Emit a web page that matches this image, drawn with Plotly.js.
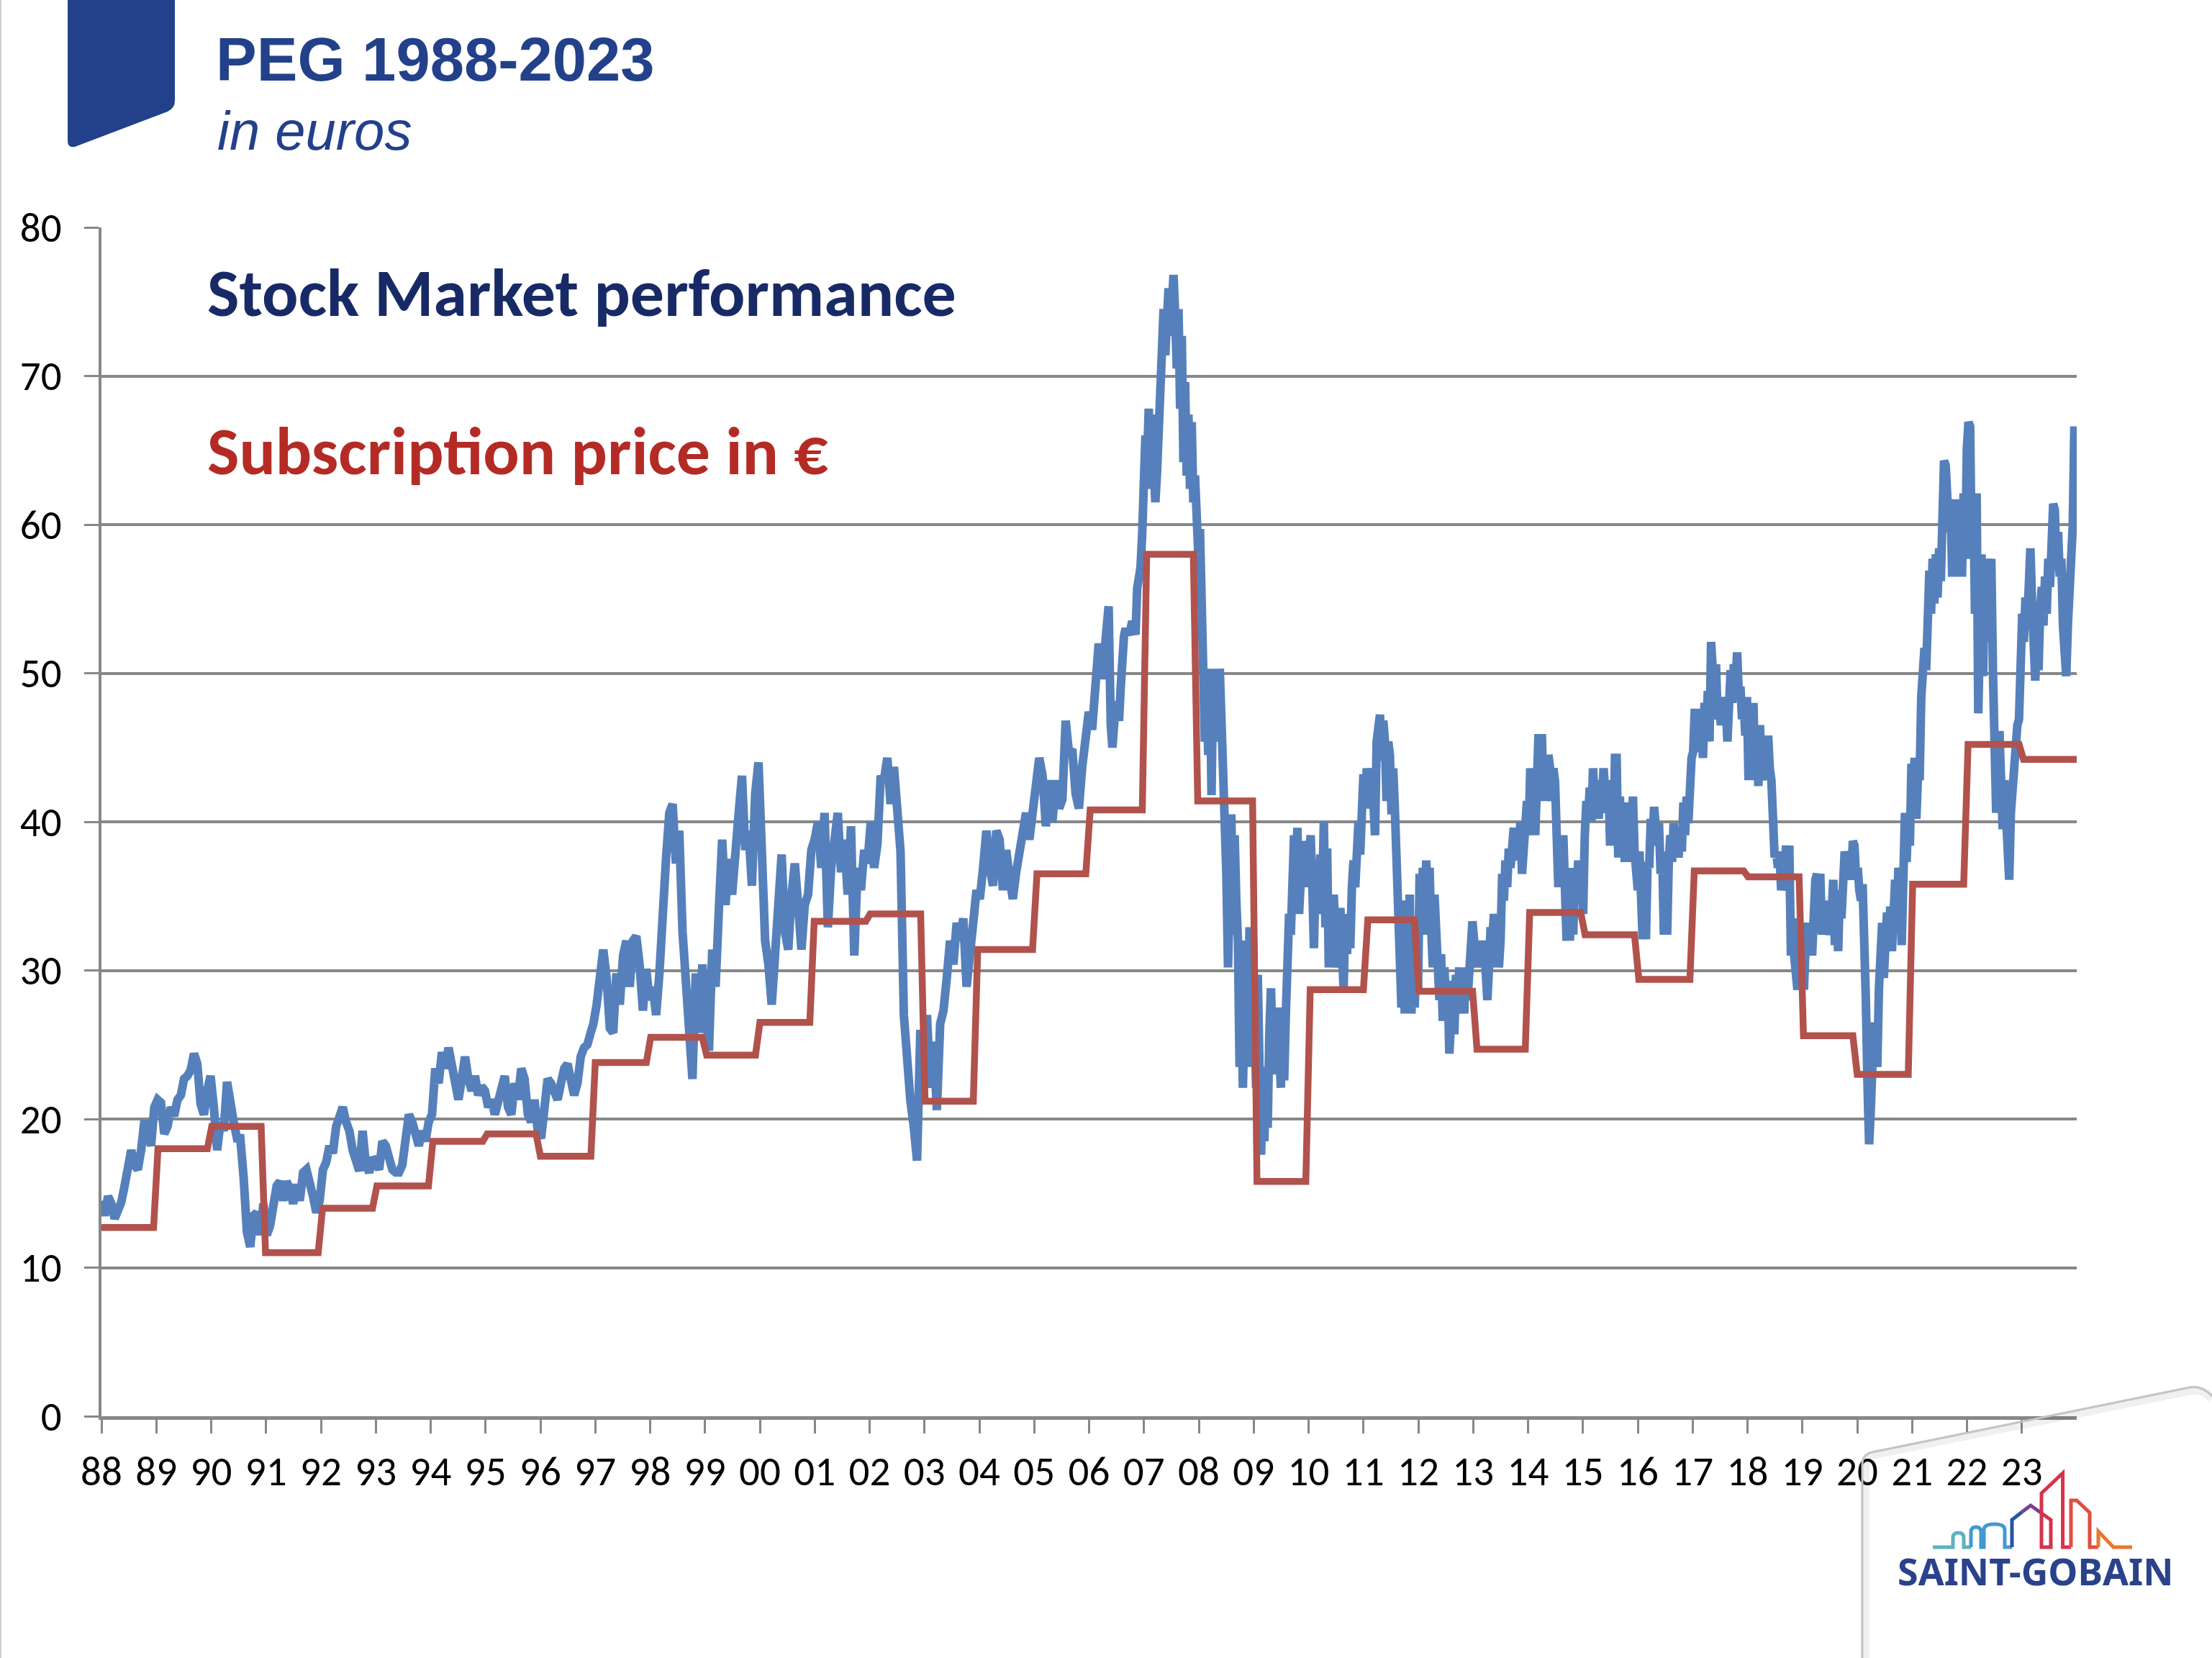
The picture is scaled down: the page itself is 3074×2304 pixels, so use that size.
<!DOCTYPE html>
<html>
<head>
<meta charset="utf-8">
<script src="https://cdn.plot.ly/plotly-3.0.1.min.js"></script>
<style>
  html, body { margin: 0; padding: 0; background: #ffffff; }
  #chart { width: 3074px; height: 2304px; }
</style>
</head>
<body>
<div id="chart"></div>
<script>
// ---------------- DATA ----------------
// Year tick positions and labels
const yearTicks = [1988,1989,1990,1991,1992,1993,1994,1995,1996,1997,1998,1999,2000,2001,2002,2003,2004,2005,2006,2007,2008,2009,2010,2011,2012,2013,2014,2015,2016,2017,2018,2019,2020,2021,2022,2023];
const yearLabels = ['88','89','90','91','92','93','94','95','96','97','98','99','00','01','02','03','04','05','06','07','08','09','10','11','12','13','14','15','16','17','18','19','20','21','22','23'];
const priceTicks = [0,10,20,30,40,50,60,70,80];

// Stock price (euros), regularly sampled readings, in four stretches
const stockAStart = 1988.0, stockAEnd = 1996.916;
const stockA = [14.5,13.5,14.8,14.3,13.3,13.9,14.4,15.5,17.0,17.9,16.9,16.6,17.9,19.9,19.0,18.2,20.8,21.3,21.1,19.0,
  19.5,20.8,20.2,21.3,21.6,22.7,22.9,23.3,24.4,23.7,21.0,20.3,21.9,22.9,20.8,17.9,19.8,19.2,22.5,20.8,
  19.8,18.7,18.7,16.1,12.4,11.4,13.5,13.7,12.2,14.3,12.2,12.8,14.5,15.5,15.8,14.5,15.8,15.3,14.3,15.6,
  14.5,16.4,16.6,15.3,14.8,13.7,14.5,16.6,17.1,18.2,17.7,19.5,20.3,20.8,19.8,19.2,17.9,17.1,16.5,19.2,
  16.9,16.4,17.4,17.1,16.6,18.5,18.2,17.4,16.6,16.4,16.4,16.9,18.2,20.3,19.8,18.7,18.2,19.2,18.5,19.8,
  20.3,23.4,22.4,24.5,23.4,24.8,23.4,22.4,21.3,22.7,24.2,22.7,21.9,22.9,21.6,22.2,21.9,20.8,21.3,20.3,
  21.1,22.4,22.9,20.8,20.3,22.4,21.3,23.4,22.7,20.3,19.8,21.3,19.2,18.7,20.5,22.7,22.4,21.6,21.3,22.4,
  23.4,23.7,22.4,21.6,22.4,24.2,24.8,25.0,25.8];

const stockBStart = 1996.965, stockBEnd = 2006.356;
const stockB = [26.4,27.7,29.5,31.4,29.5,26.1,25.8,29.8,27.7,31.0,
  32.0,28.9,32.0,32.3,30.4,27.3,30.1,28.0,28.9,27.0,
  29.8,35.4,37.5,40.6,41.2,37.2,39.4,32.6,28.9,25.8,
  22.7,29.8,25.8,30.4,27.3,24.6,31.4,28.9,34.1,38.8,
  34.4,37.5,35.1,38.8,40.6,43.1,38.1,39.4,35.7,41.9,
  44.0,38.1,32.0,30.4,27.7,31.0,35.1,37.8,32.6,31.4,
  35.1,37.2,34.4,31.4,34.4,35.1,38.1,38.8,40.0,36.9,
  40.6,32.9,36.9,39.4,40.6,36.6,38.8,35.1,39.7,31.0,
  36.9,35.4,38.1,37.2,40.0,36.9,38.5,43.1,42.8,44.3,
  41.2,43.7,40.9,38.0,27.0,22.7,21.2,19.5,17.2,26.0,
  22.5,27.0,22.1,25.2,20.6,26.4,27.3,29.5,32.0,30.4,
  33.2,32.0,33.5,28.9,32.0,33.2,35.4,34.8,36.9,39.4,
  36.9,35.7,39.4,38.8,35.4,38.1,36.3,34.8,36.6,38.1,
  39.4,40.6,38.8,40.9,41.9,44.3,43.1,39.7,42.8,40.0,
  42.8,40.9,41.5,46.8,44.6,44.9,41.9,40.9,43.7,45.2,
  47.4,46.2,50.5,52.0,49.6,53.0,54.5];

const stockCStart = 2006.395, stockCEnd = 2015.245;
const stockC = [46.5,45.0,46.5,48.1,47.5,46.8,49.0,51.7,52.5,53.0,
  52.8,52.6,53.0,53.5,53.0,52.6,55.7,56.5,57.1,59.3,
  62.9,66.0,64.2,67.8,62.4,67.4,64.0,61.5,63.5,66.0,
  70.5,73.2,74.5,71.4,75.0,75.9,72.7,75.4,76.8,74.1,
  70.5,74.5,67.8,72.7,64.2,69.6,63.3,67.4,62.4,66.9,
  61.5,63.3,60.2,58.0,59.7,54.8,51.7,45.4,49.9,44.5,
  50.3,41.8,49.9,45.4,50.3,45.4,50.3,47.2,41.4,39.1,
  36.5,30.2,36.5,40.5,32.4,39.1,34.7,32.0,23.5,28.4,
  22.1,25.7,32.0,23.5,32.9,30.2,32.4,25.7,22.1,29.7,
  21.2,17.6,22.1,18.5,23.5,19.4,25.7,28.8,24.4,27.5,
  23.0,26.6,24.8,22.1,27.5,22.6,27.1,30.2,33.8,32.4,
  34.7,39.1,35.1,39.6,33.8,37.4,38.2,35.6,38.7,38.2,
  36.5,39.1,36.0,31.5,36.5,33.8,35.6,37.8,34.7,40.0,
  32.9,38.2,30.2,34.7,32.0,35.1,32.4,30.2,32.4,34.2,
  31.1,28.8,33.8,31.1,33.3,31.5,35.6,37.4,35.6,39.1,
  40.0,37.8,40.5,43.2,40.9,43.6,42.7,40.9,43.6,40.0,
  39.1,45.4,46.3,47.2,44.1,46.8,45.4,41.4,45.4,44.5,
  40.5,43.6,40.9,36.9,32.0,30.2,27.5,32.4,27.1,34.7,
  28.4,35.1,27.1,29.3,27.5,31.1,28.4,36.5,33.8,36.9,
  32.4,37.4,34.7,36.9,32.9,30.2,35.1,32.0,30.2,28.0,
  31.1,26.6,30.2,27.5,29.3,24.4,26.6,29.3,25.7,29.7,
  28.0,30.2,27.1,28.8,27.1,30.2,28.0,31.1,32.9,33.3,
  32.0,30.2,32.0,30.2,32.0,30.2,32.0,29.7,28.0,30.2,
  32.9,32.0,33.8,30.2,33.8,30.2,32.0,36.5,34.7,37.4,
  35.6,38.2,36.9,38.2,39.6,37.4,39.6,37.4,40.0,36.5,
  39.1,40.0,41.4,39.1,43.6,41.4,43.6,39.1,43.6,45.9,
  41.4,45.9,41.4,44.5,41.8,44.5,43.6,41.4,43.6,42.7,
  39.1,35.6,39.1,35.6,39.1,36.9,32.0,35.6,32.0,36.9,
  32.4,36.5,34.7,37.4,34.7,37.4,33.8,39.1,41.4,40.0,
  42.3,40.0,43.6,41.4,42.7];

const stockDStart = 2015.288, stockDEnd = 2023.987;
const stockD = [40.2,42.8,41.3,43.6,42.1,40.6,42.8,38.4,42.1,38.4,
  44.3,44.3,37.6,41.7,37.6,40.6,37.3,41.3,37.3,39.9,
  38.0,41.7,38.0,36.5,35.4,38.0,35.4,32.1,34.7,32.1,
  37.3,36.9,40.2,38.4,41.0,39.9,38.4,39.9,36.5,38.0,
  32.4,36.5,32.4,37.3,39.1,37.3,39.9,37.6,39.5,37.6,
  39.5,38.0,41.3,39.1,41.7,39.9,43.6,44.3,44.7,47.6,
  45.0,47.6,44.7,46.5,44.3,48.0,45.8,48.8,45.4,52.1,
  50.2,48.0,50.6,46.9,48.0,46.5,48.4,46.5,48.0,45.4,
  49.5,50.2,48.0,50.6,49.5,51.4,48.4,49.1,46.9,48.0,
  45.8,48.4,42.8,47.3,44.7,48.0,42.8,46.1,42.4,46.5,
  42.8,43.6,45.0,42.8,45.8,43.6,42.8,40.2,37.6,38.0,
  36.9,38.0,35.4,36.1,35.4,38.4,35.4,38.4,31.0,33.5,
  31.0,30.2,28.7,31.0,29.5,30.2,28.7,31.7,33.2,31.0,
  33.2,31.0,35.4,36.1,36.5,33.2,36.5,32.4,34.7,32.4,
  33.9,33.2,32.4,33.9,36.1,31.7,33.2,31.3,35.4,33.5,
  36.1,38.0,37.3,36.5,36.9,36.1,38.7,38.4,36.1,36.9,
  35.4,34.7,35.8,33.2,28.0,22.4,18.3,20.6,24.3,26.5,
  25.0,23.5,28.7,31.7,33.2,29.5,33.2,33.9,31.7,34.3,
  31.3,35.4,36.1,33.5,36.9,36.1,31.7,39.1,40.6,37.3,
  40.6,38.4,43.9,42.8,44.3,40.2,43.2,42.8,48.4,50.2,
  51.7,50.2,52.8,56.9,54.0,57.7,54.7,58.0,55.1,58.4,
  56.2,62.1,64.3,64.0,61.4,59.5,61.7,56.5,61.4,56.5,
  61.7,58.8,61.4,56.5,62.1,57.7,65.1,66.9,66.6,57.7,
  62.1,54.0,62.1,47.3,52.1,58.0,49.8,57.7,52.1,57.7,
  54.7,57.7,50.2,42.8,40.6,44.7,46.1,42.8,39.5,42.8,
  39.1,36.1,36.1,40.6,42.8,45.0,46.5,46.5,46.9,52.5,
  54.0,52.1,55.1,53.2,57.7,58.4,54.7,52.1,49.5,52.8,
  50.2,54.3,55.8,53.2,56.5,54.0,57.7,55.8,58.4,61.4,
  61.0,56.9,59.5,56.5,57.7,53.2,51.0,49.8,53.2,54.7,
  57.7,59.9,66.6,60.5];

// Subscription price (euros): start of each yearly level, and the level
const subStart = [1988.0,1988.95,1989.93,1990.91,1991.95,1992.94,1993.96,1994.95,1995.92,1996.92,
  1997.93,1998.95,1999.92,2000.91,2001.93,2002.93,2003.89,2004.97,2005.94,2006.97,
  2007.90,2008.98,2009.95,2011.00,2011.93,2012.99,2013.95,2014.96,2015.94,2016.95,
  2017.93,2018.94,2019.92,2020.93,2021.94,2022.95];
const subLevel = [12.7,18.0,19.5,11.0,14.0,15.5,18.5,19.0,17.5,23.8,
  25.5,24.3,26.5,33.3,33.8,21.2,31.4,36.5,40.8,58.0,
  41.4,15.8,28.7,33.4,28.6,24.7,33.9,32.4,29.4,36.7,
  36.3,25.6,23.0,35.8,45.2,44.2];
const subEnd = 2024.0;

// ---------------- BUILD ----------------
function sampled(start, end, vals) {
  const n = vals.length, step = (end - start) / (n - 1);
  return vals.map((v, i) => start + i * step);
}
const stockX = [].concat(
  sampled(stockAStart, stockAEnd, stockA),
  sampled(stockBStart, stockBEnd, stockB),
  sampled(stockCStart, stockCEnd, stockC),
  sampled(stockDStart, stockDEnd, stockD));
const stockY = [].concat(stockA, stockB, stockC, stockD);

const ramp = 0.08;
const subX = [], subY = [];
for (let i = 0; i < subLevel.length; i++) {
  const s = i === 0 ? subStart[0] : subStart[i] + ramp;
  const e = i + 1 < subLevel.length ? subStart[i + 1] : subEnd;
  subX.push(s, e); subY.push(subLevel[i], subLevel[i]);
}

// ---------------- LAYOUT ----------------
const W = 3074, H = 2304, ML = 141, MR = 188, MT = 316, MB = 336;
const PW = W - ML - MR, PH = H - MT - MB;
const px = x => (x - ML) / PW;
const py = y => (H - MB - y) / PH;
const path = (cmds) => cmds.map(c => c[0] + ' ' + c.slice(1).map((v, k) => k % 2 === 0 ? px(v).toFixed(5) : py(v).toFixed(5)).reduce((a, v, k) => a + (k % 2 === 0 ? (k ? ' ' : '') + v : ',' + v), '')).join(' ');

const tickFont = {family: 'Carlito, Lato, "Open Sans", sans-serif', size: 57, color: '#000000'};
const grey = '#878787';

const shapes = [
  // left slide border
  {type: 'line', xref: 'paper', yref: 'paper', x0: px(1), x1: px(1), y0: py(0), y1: py(H), line: {color: '#cfcfcf', width: 2}},
  // blue tab
  {type: 'path', xref: 'paper', yref: 'paper', layer: 'above',
   path: path([['M', 94, 0], ['L', 243, 0], ['L', 243, 140], ['Q', 243, 150, 233, 155], ['L', 104, 204], ['Q', 94, 206, 94, 196], ['Z']]),
   fillcolor: '#23418A', line: {width: 0}},
  // page-curl shadow
  {type: 'path', xref: 'paper', yref: 'paper',
   path: path([['M', 2592, 2304], ['L', 2592, 2037], ['Q', 2592, 2024, 2606, 2021], ['L', 3045, 1932], ['Q', 3062, 1929, 3074, 1944]]),
   line: {color: 'rgba(0,0,0,0.06)', width: 12}},
  {type: 'path', xref: 'paper', yref: 'paper',
   path: path([['M', 2588, 2304], ['L', 2588, 2035], ['Q', 2588, 2021, 2602, 2018], ['L', 3043, 1928], ['Q', 3060, 1925, 3074, 1940]]),
   line: {color: '#c4c4c4', width: 3}},
];
// logo skyline
const sky = [
  ['#5DB2BE', [['M', 2686, 2150], ['L', 2714, 2150], ['L', 2714, 2137], ['Q', 2714, 2130, 2721.5, 2130], ['Q', 2729, 2130, 2729, 2137], ['L', 2729, 2150], ['L', 2739, 2150]]],
  ['#4399D2', [['M', 2739, 2150], ['L', 2739, 2129], ['Q', 2739, 2122, 2746, 2122], ['Q', 2753, 2122, 2753, 2129], ['L', 2753, 2150], ['L', 2757, 2150], ['L', 2757, 2126], ['Q', 2757, 2118, 2771.5, 2118], ['Q', 2786, 2118, 2786, 2126], ['L', 2786, 2150], ['L', 2796, 2150]]],
  ['#2C52A3', [['M', 2796, 2150], ['L', 2796, 2112], ['L', 2810, 2101]]],
  ['#7A3F8E', [['M', 2810, 2101], ['L', 2822, 2092], ['L', 2836, 2102]]],
  ['#D6334B', [['M', 2836, 2102], ['L', 2850, 2112], ['L', 2850, 2150], ['L', 2837, 2150], ['L', 2837, 2075], ['L', 2866.6, 2047], ['L', 2866.6, 2150], ['L', 2878, 2150]]],
  ['#DF4E3F', [['M', 2878, 2150], ['L', 2878, 2085], ['L', 2886, 2085], ['L', 2904, 2102], ['L', 2904, 2150], ['L', 2916, 2150]]],
  ['#E8772F', [['M', 2916, 2150], ['L', 2916, 2128], ['L', 2937, 2150], ['L', 2963, 2150]]],
];
sky.forEach(([c, p]) => shapes.push({type: 'path', xref: 'paper', yref: 'paper', path: path(p), line: {color: c, width: 5}}));

const annotations = [
  {text: 'in euros', xref: 'paper', yref: 'paper', x: px(300), y: py(181), xanchor: 'left', yanchor: 'middle', showarrow: false,
   font: {family: '"Liberation Sans", Arial, sans-serif', size: 76, color: '#23418A', style: 'italic'}},
  {text: '<b>Stock Market performance</b>', xref: 'paper', yref: 'paper', x: px(286), y: py(406), xanchor: 'left', yanchor: 'middle', showarrow: false,
   font: {family: 'Carlito, Lato, sans-serif', size: 94, color: '#182A66'}},
  {text: '<b>Subscription price in €</b>', xref: 'paper', yref: 'paper', x: px(286), y: py(626), xanchor: 'left', yanchor: 'middle', showarrow: false,
   font: {family: 'Carlito, Lato, sans-serif', size: 94, color: '#B42B25'}},
  {text: '<b>SAINT-GOBAIN</b>', xref: 'paper', yref: 'paper', x: px(2829), y: py(2182), xanchor: 'center', yanchor: 'middle', showarrow: false,
   font: {family: '"Noto Sans", "Open Sans", sans-serif', size: 52, color: '#2A428C'}},
];

const traces = [
  {type: 'scatter', mode: 'lines', name: 'Stock Market performance', x: stockX, y: stockY,
   line: {color: '#5580BB', width: 12, shape: 'linear'}, hoverinfo: 'skip'},
  {type: 'scatter', mode: 'lines', name: 'Subscription price in €', x: subX, y: subY,
   line: {color: '#B1524D', width: 9.5, shape: 'linear'}, hoverinfo: 'skip'},
];

const layout = {
  width: W, height: H,
  margin: {l: ML, r: MR, t: MT, b: MB, pad: 0},
  paper_bgcolor: '#ffffff', plot_bgcolor: '#ffffff',
  showlegend: false,
  title: {text: '<b>PEG 1988-2023</b>', xref: 'container', yref: 'container', x: 300 / W, xanchor: 'left',
          y: 1 - 82 / H, yanchor: 'middle',
          font: {family: '"Liberation Sans", Arial, sans-serif', size: 85, color: '#23418A'}},
  xaxis: {range: [1988, 2024], tickmode: 'array', tickvals: yearTicks, ticktext: yearLabels,
          showgrid: false, zeroline: false, showline: true, linecolor: grey, linewidth: 5,
          ticks: 'outside', ticklen: 19, tickwidth: 3, tickcolor: grey, tickfont: tickFont,
          ticklabelstandoff: 4, fixedrange: true},
  yaxis: {range: [0, 80], tickmode: 'array', tickvals: priceTicks, ticktext: priceTicks.map(String),
          showgrid: true, gridcolor: grey, gridwidth: 4, zeroline: false, showline: true, linecolor: grey, linewidth: 4,
          ticks: 'outside', ticklen: 20, tickwidth: 3, tickcolor: grey, tickfont: tickFont,
          ticklabelstandoff: 20, fixedrange: true},
  shapes: shapes,
  annotations: annotations,
  hovermode: false,
};

Plotly.newPlot('chart', traces, layout, {displayModeBar: false, staticPlot: true});
</script>
</body>
</html>
